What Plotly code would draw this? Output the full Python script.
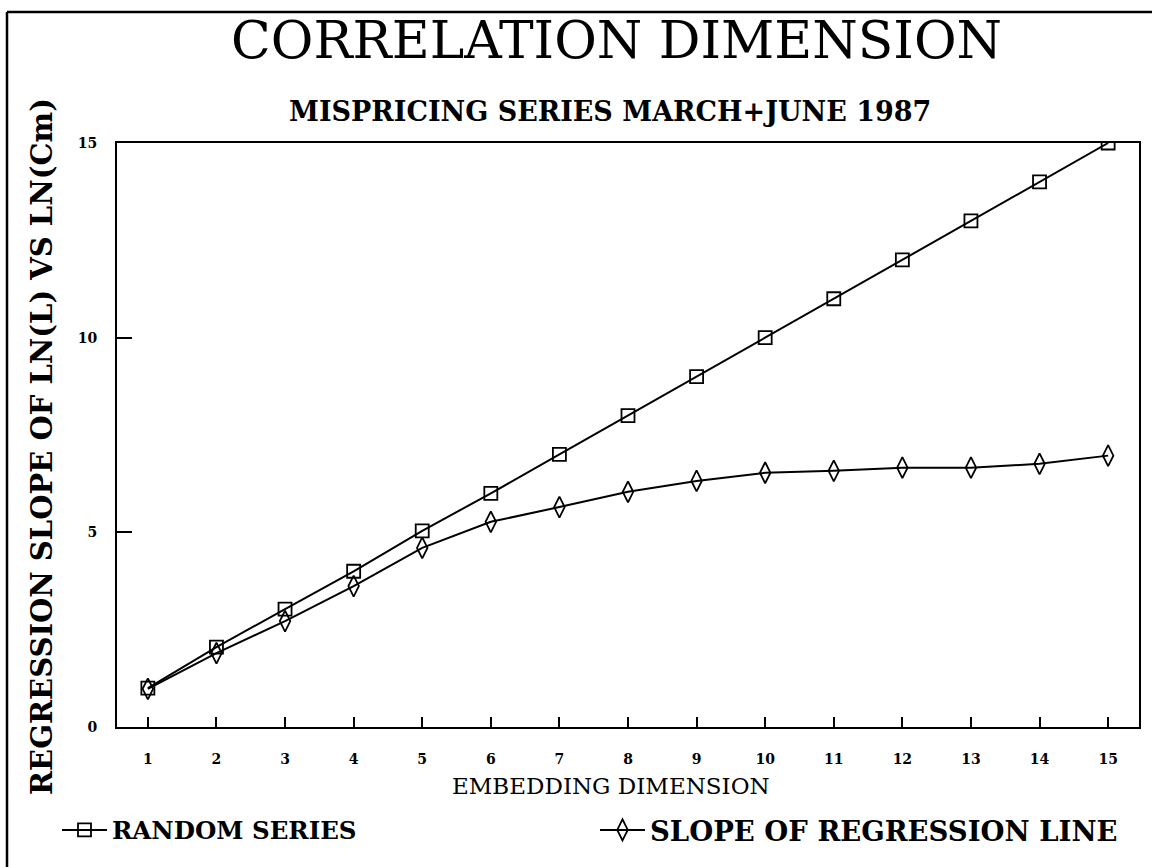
import plotly.graph_objects as go

# Embedding dimensions and the two correlation-dimension estimates
embedding_dim = list(range(1, 16))
random_series = [1.0, 2.05, 3.03, 4.0, 5.04, 6.0, 7.0, 8.0, 9.0, 10.0, 11.0, 12.0, 13.0, 14.0, 15.0]
regression_slope = [0.98, 1.9, 2.72, 3.62, 4.6, 5.27, 5.65, 6.04, 6.32, 6.53, 6.58, 6.66, 6.66, 6.76, 6.97]

y_ticks = [0, 5, 10, 15]

FONT = "DejaVu Serif, Liberation Serif, serif"
W, H = 1152, 867
L, R, T, B = 117, 13, 143, 140
PW, PH = W - L - R, H - T - B


def px_x(px):
    """Horizontal pixel position -> paper coordinate."""
    return (px - L) / PW


def px_y(py):
    """Vertical pixel position (from top) -> paper coordinate."""
    return (H - py - B) / PH


fig = go.Figure()
fig.add_trace(go.Scatter(
    x=embedding_dim, y=random_series, name="RANDOM SERIES",
    mode="lines+markers", legend="legend",
    line=dict(color="black", width=2),
    marker=dict(symbol="square-open", size=13, color="black", line=dict(width=1.8)),
))
fig.add_trace(go.Scatter(
    x=embedding_dim, y=regression_slope, name="SLOPE OF REGRESSION LINE",
    mode="lines+markers", legend="legend2",
    line=dict(color="black", width=2),
    marker=dict(symbol="diamond-tall-open", size=15, color="black", line=dict(width=1.8)),
))

legend_style = dict(
    orientation="h", xanchor="left", yanchor="middle",
    itemwidth=45,
    bgcolor="rgba(0,0,0,0)",
)

fig.update_layout(
    width=W, height=H,
    margin=dict(l=L, r=R, t=T, b=B),
    paper_bgcolor="white", plot_bgcolor="white",
    font=dict(family=FONT, color="black"),
    showlegend=True,
    legend=dict(x=px_x(57), y=px_y(830),
                font=dict(family=FONT, size=24.5, weight="bold"), **legend_style),
    legend2=dict(x=px_x(595), y=px_y(830),
                 font=dict(family=FONT, size=27.5, weight="bold"), **legend_style),
    annotations=[
        dict(text="CORRELATION DIMENSION", x=px_x(616), y=px_y(40),
             font=dict(family=FONT, size=52)),
        dict(text="MISPRICING SERIES MARCH+JUNE 1987", x=px_x(610), y=px_y(112),
             font=dict(family=FONT, size=27, weight="bold")),
        dict(text="REGRESSION SLOPE OF LN(L) VS LN(Cm)", x=px_x(42), y=px_y(447),
             textangle=-90, font=dict(family=FONT, size=29, weight="bold")),
        dict(text="EMBEDDING DIMENSION", x=px_x(611), y=px_y(786),
             font=dict(family=FONT, size=23)),
    ],
)
for a in fig.layout.annotations:
    a.update(xref="paper", yref="paper", showarrow=False,
             xanchor="center", yanchor="middle")

fig.update_xaxes(
    range=[0.55, 15.45],
    tickvals=embedding_dim,
    ticks="inside", ticklen=10, tickwidth=2, tickcolor="black",
    ticklabelstandoff=18,
    tickfont=dict(family=FONT, size=14, weight="bold"),
    showline=True, linecolor="black", linewidth=2, mirror=True,
    showgrid=False, zeroline=False,
)
fig.update_yaxes(
    range=[0, 15],
    tickvals=y_ticks,
    ticks="inside", ticklen=15, tickwidth=2, tickcolor="black",
    ticklabelstandoff=15,
    tickfont=dict(family=FONT, size=14, weight="bold"),
    showline=True, linecolor="black", linewidth=2, mirror=True,
    showgrid=False, zeroline=False,
)

# outer frame of the figure (top and left edges)
fig.add_shape(type="line", xref="paper", yref="paper",
              x0=px_x(7), x1=px_x(W), y0=px_y(12), y1=px_y(12),
              line=dict(color="black", width=2.5))
fig.add_shape(type="line", xref="paper", yref="paper",
              x0=px_x(7), x1=px_x(7), y0=px_y(H), y1=px_y(12),
              line=dict(color="black", width=2.5))

fig.write_html("out.html")
